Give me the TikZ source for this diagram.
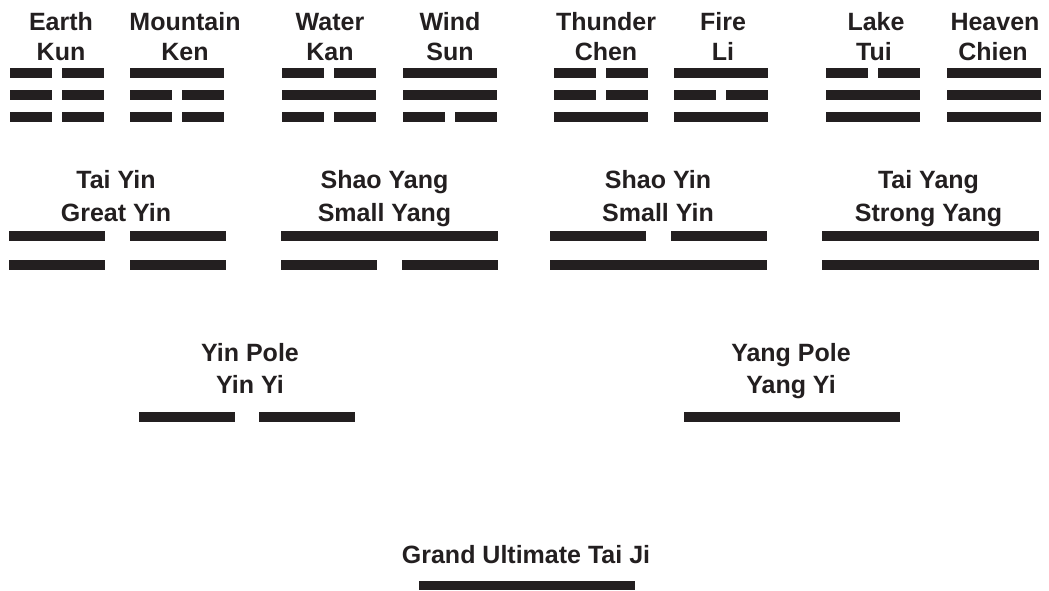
\documentclass[tikz,border=0pt]{standalone}
\usepackage{fontspec}
\setmainfont{Liberation Sans}
\definecolor{ink}{RGB}{35,31,32}
% full (yang) line: centre x, centre y, width, height
\newcommand\YangLine[4]{\fill[ink] ({#1-#3/2},{#2-#4/2}) rectangle ({#1+#3/2},{#2+#4/2});}
% broken (yin) line: centre x, centre y, width, gap, height
\newcommand\YinLine[5]{%
  \fill[ink] ({#1-#3/2},{#2-#5/2}) rectangle ({#1-#4/2},{#2+#5/2});%
  \fill[ink] ({#1+#4/2},{#2-#5/2}) rectangle ({#1+#3/2},{#2+#5/2});}
% trigram lines (row 1)
\newcommand\TYang[2]{\YangLine{#1}{#2}{94}{10}}
\newcommand\TYin[2]{\YinLine{#1}{#2}{94}{10}{10}}
% bigram / pole lines
\newcommand\BYang[2]{\YangLine{#1}{#2}{217}{10}}
\newcommand\BYin[2]{\YinLine{#1}{#2}{217}{25}{10}}
\begin{document}
\begin{tikzpicture}[x=1pt,y=-1pt,
  lbl/.style={font=\bfseries\fontsize{25}{30}\selectfont, text=ink,
              inner sep=0pt, outer sep=0pt, anchor=base}]
\useasboundingbox (0,0) rectangle (1049,590);

% ---------- Row 1: trigrams ----------
\node[lbl] (earthA) at (61,30) {Earth};
\node[lbl] (earthB) at (61,60) {Kun};
\TYin{56.5}{72.5} \TYin{56.5}{94.5} \TYin{56.5}{116.5}

\node[lbl] (mountA) at (185,30) {Mountain};
\node[lbl] (mountB) at (185,60) {Ken};
\TYang{177}{72.5} \TYin{177}{94.5} \TYin{177}{116.5}

\node[lbl] (waterA) at (330,30) {Water};
\node[lbl] (waterB) at (330,60) {Kan};
\TYin{328.5}{72.5} \TYang{328.5}{94.5} \TYin{328.5}{116.5}

\node[lbl] (windA) at (450,30) {Wind};
\node[lbl] (windB) at (450,60) {Sun};
\TYang{449.5}{72.5} \TYang{449.5}{94.5} \TYin{449.5}{116.5}

\node[lbl] (thunA) at (606,30) {Thunder};
\node[lbl] (thunB) at (606,60) {Chen};
\TYin{601}{72.5} \TYin{601}{94.5} \TYang{601}{116.5}

\node[lbl] (fireA) at (723,30) {Fire};
\node[lbl] (fireB) at (723,60) {Li};
\TYang{721}{72.5} \TYin{721}{94.5} \TYang{721}{116.5}

\node[lbl] (lakeA) at (876,30) {Lake};
\node[lbl] (lakeB) at (874,60) {Tui};
\TYin{873}{72.5} \TYang{873}{94.5} \TYang{873}{116.5}

\node[lbl] (heavA) at (995,30) {Heaven};
\node[lbl] (heavB) at (993,60) {Chien};
\TYang{993.5}{72.5} \TYang{993.5}{94.5} \TYang{993.5}{116.5}

% ---------- Row 2: bigrams ----------
\node[lbl] (taiyinA) at (116,188) {Tai Yin};
\node[lbl] (taiyinB) at (116,221) {Great Yin};
\BYin{117.5}{235.7} \BYin{117.5}{265.3}

\node[lbl] (shyangA) at (384.5,188) {Shao Yang};
\node[lbl] (shyangB) at (384.5,221) {Small Yang};
\BYang{389}{235.7} \BYin{389}{265.3}

\node[lbl] (shyinA) at (658,188) {Shao Yin};
\node[lbl] (shyinB) at (658,221) {Small Yin};
\BYin{658}{235.7} \BYang{658}{265.3}

\node[lbl] (taiyangA) at (928.5,188) {Tai Yang};
\node[lbl] (taiyangB) at (928.5,221) {Strong Yang};
\BYang{930}{235.7} \BYang{930}{265.3}

% ---------- Row 3: poles ----------
\node[lbl] (yinpA) at (250,361) {Yin Pole};
\node[lbl] (yinpB) at (250,393) {Yin Yi};
\YinLine{247}{417}{216}{24}{10}

\node[lbl] (yangpA) at (791,361) {Yang Pole};
\node[lbl] (yangpB) at (791,393) {Yang Yi};
\YangLine{791.5}{417}{216}{10}

% ---------- Row 4: Tai Ji ----------
\node[lbl] (taiji) at (526,563) {Grand Ultimate Tai Ji};
\YangLine{527}{585.5}{216}{9}
\end{tikzpicture}
\end{document}
